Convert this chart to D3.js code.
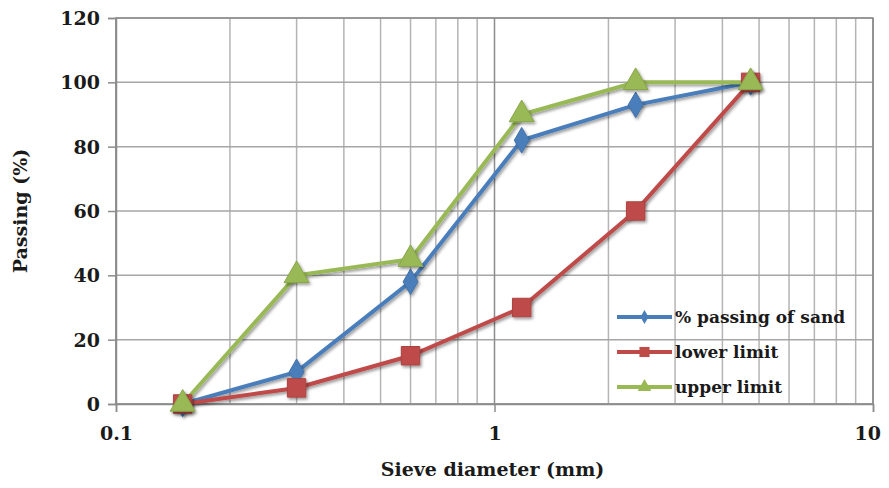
<!DOCTYPE html>
<html>
<head>
<meta charset="utf-8">
<script src="https://cdn.jsdelivr.net/npm/d3@7"></script>
<style>
body { margin: 0; background: #fff; }
text { font-family: "DejaVu Serif", serif; font-weight: bold; fill: #1a1a1a; }
</style>
</head>
<body>
<div id="chart"></div>
<script>
// sieve sizes (mm) and passing values (%)
let sieves = [0.15, 0.3, 0.6, 1.18, 2.36, 4.75];
let sandPassing = [0, 10, 38, 82, 93, 100];
let lowerLimit = [0, 5, 15, 30, 60, 100];
let upperLimit = [0, 40, 45, 90, 100, 100];
let yTicks = [0, 20, 40, 60, 80, 100, 120];
let xTicks = [0.1, 1, 10];

let svgWidth = 889;
let svgHeight = 488;
let margin = { top: 18, right: 16, bottom: 84, left: 116 };
let width = svgWidth - margin.left - margin.right;
let height = svgHeight - margin.top - margin.bottom;

let svg = d3.select("#chart").append("svg")
    .attr("width", svgWidth)
    .attr("height", svgHeight);

let defs = svg.append("defs");
let shadow = defs.append("filter").attr("id", "shadow")
    .attr("x", "-50%").attr("y", "-50%").attr("width", "200%").attr("height", "200%");
shadow.append("feDropShadow")
    .attr("dx", 1.5).attr("dy", 2).attr("stdDeviation", 1.5)
    .attr("flood-color", "#000").attr("flood-opacity", 0.4);

let g = svg.append("g").attr("transform", `translate(${margin.left}, ${margin.top})`);

let x = d3.scaleLog().domain([0.1, 10]).range([0, width]);
let y = d3.scaleLinear().domain([0, 120]).range([height, 0]);

// vertical grid, minor
let minor = x.ticks().filter(d => xTicks.indexOf(d) < 0);
g.selectAll(".vminor").data(minor).enter().append("line")
    .attr("x1", d => x(d)).attr("x2", d => x(d))
    .attr("y1", 0).attr("y2", height)
    .attr("stroke", "#b4b4b4").attr("stroke-width", 1.5);

// horizontal grid
g.selectAll(".hgrid").data(yTicks).enter().append("line")
    .attr("x1", 0).attr("x2", width)
    .attr("y1", d => y(d)).attr("y2", d => y(d))
    .attr("stroke", "#a6a6a6").attr("stroke-width", 1.5);

// decade lines
g.selectAll(".vmajor").data(xTicks).enter().append("line")
    .attr("x1", d => x(d)).attr("x2", d => x(d))
    .attr("y1", 0).attr("y2", height)
    .attr("stroke", "#8c8c8c").attr("stroke-width", 1.5);

g.append("rect").attr("width", width).attr("height", height)
    .attr("fill", "none").attr("stroke", "#8c8c8c").attr("stroke-width", 1.5);

// axes
let leftAxis = d3.axisLeft(y).tickValues(yTicks).tickSize(8).tickPadding(8);
let yAxis = g.append("g").call(leftAxis);
yAxis.select(".domain").attr("stroke", "#8c8c8c").attr("stroke-width", 1.5);
yAxis.selectAll(".tick line").attr("stroke", "#8c8c8c").attr("stroke-width", 1.5);
yAxis.selectAll(".tick text").style("font-size", "19px").attr("dy", "0.35em");

let bottomAxis = d3.axisBottom(x).tickValues(xTicks).tickFormat(d3.format("")).tickSize(8).tickPadding(15);
let xAxis = g.append("g").attr("transform", `translate(0, ${height})`).call(bottomAxis);
xAxis.select(".domain").attr("stroke", "#8c8c8c").attr("stroke-width", 1.5);
xAxis.selectAll(".tick line").attr("stroke", "#8c8c8c").attr("stroke-width", 1.5);
xAxis.selectAll(".tick text").style("font-size", "19px");
xAxis.selectAll(".tick text").filter(d => d === 10).attr("dx", "-0.3em");

let series = [
    { name: "% passing of sand", values: sandPassing, color: "#4a7ebb", marker: d3.symbolDiamond, size: 190 },
    { name: "lower limit", values: lowerLimit, color: "#be4b48", marker: d3.symbolSquare, size: 340 },
    { name: "upper limit", values: upperLimit, color: "#98b954", marker: d3.symbolTriangle, size: 270 }
];

let line = d3.line().x(d => x(d[0])).y(d => y(d[1]));

series.forEach(function (s) {
    let pts = sieves.map((v, i) => [v, s.values[i]]);
    g.append("path").datum(pts)
        .attr("d", line)
        .attr("fill", "none")
        .attr("stroke", s.color)
        .attr("stroke-width", 4)
        .attr("filter", "url(#shadow)");
});

series.forEach(function (s) {
    let pts = sieves.map((v, i) => [v, s.values[i]]);
    g.selectAll(null).data(pts).enter().append("path")
        .attr("d", d3.symbol().type(s.marker).size(s.size))
        .attr("transform", d => `translate(${x(d[0])}, ${y(d[1])})`)
        .attr("fill", s.color)
        .attr("stroke", d3.color(s.color).darker(0.3))
        .attr("stroke-width", 1)
        .attr("filter", "url(#shadow)");
});

// legend
let legend = g.append("g").attr("transform", `translate(${617 - margin.left}, ${317 - margin.top})`);
series.forEach(function (s, i) {
    let row = legend.append("g").attr("transform", `translate(0, ${i * 35})`);
    row.append("line").attr("x1", 0).attr("x2", 55)
        .attr("stroke", s.color).attr("stroke-width", 4);
    row.append("path")
        .attr("d", d3.symbol().type(s.marker).size(s.size * 0.3))
        .attr("transform", "translate(27.5, 0)")
        .attr("fill", s.color);
    row.append("text").attr("x", 58).attr("dy", "0.35em")
        .style("font-size", "17px")
        .text(s.name);
});

svg.append("text")
    .attr("x", margin.left + width / 2 - 2)
    .attr("y", 476)
    .attr("text-anchor", "middle")
    .style("font-size", "19px")
    .text("Sieve diameter (mm)");

svg.append("text")
    .attr("transform", `translate(27, ${margin.top + height / 2}) rotate(-90)`)
    .attr("text-anchor", "middle")
    .style("font-size", "19px")
    .text("Passing (%)");
</script>
</body>
</html>
